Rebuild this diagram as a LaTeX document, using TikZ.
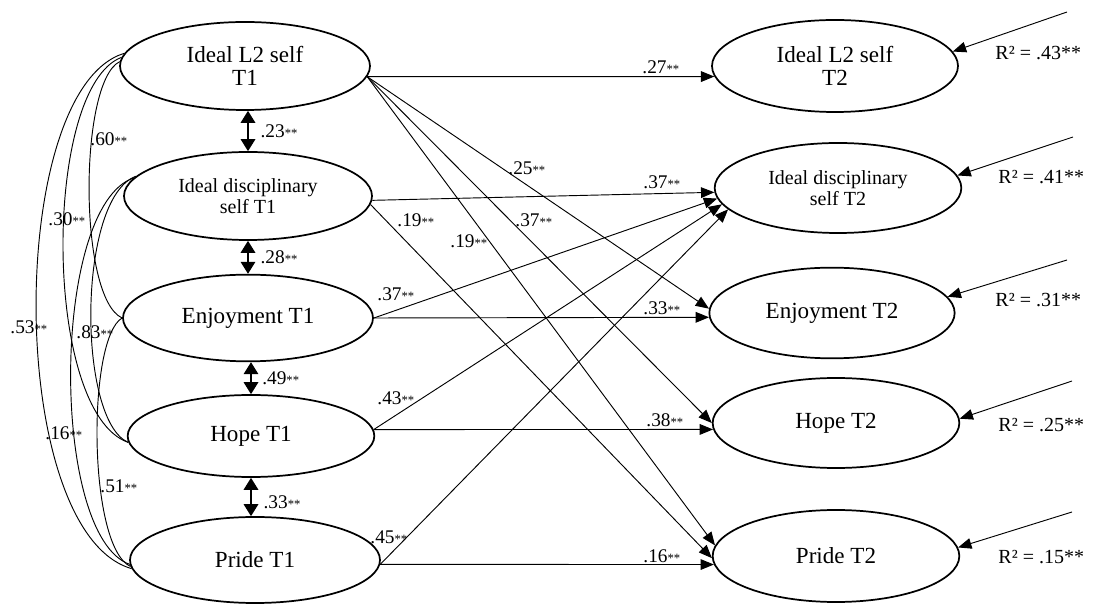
\documentclass[tikz,border=0pt]{standalone}
\usepackage{fontspec}
\setmainfont{Liberation Serif}
\usetikzlibrary{shapes.geometric,arrows.meta}

\tikzset{every picture/.style={line width=0.7pt}}
\tikzset{
  latent/.style={ellipse, draw, line width=1.3pt, inner sep=0pt, align=center,
    font=\fontsize{17.3}{17.5}\selectfont},
  small latent/.style={latent, font=\fontsize{15}{15.5}\selectfont},
  effect/.style={-{Triangle[length=10pt,width=8pt]}},
  covar/.style={{Triangle[length=9pt,width=11pt]}-{Triangle[length=9pt,width=11pt]}, line width=0.9pt},
  coef/.style={font=\fontsize{14.5}{14.5}\selectfont, inner sep=0pt, anchor=west},
  rsq/.style={font=\fontsize{15}{15}\selectfont, inner sep=0pt, anchor=west},
}
\newcommand{\coefstar}[1]{#1{\fontsize{9.5}{9.5}\selectfont **}}

\begin{document}
\begin{tikzpicture}[x=0.75pt,y=0.75pt,yscale=-1]
	\useasboundingbox (0,0) rectangle (1096,605);

	% Latent variables, time 1
	\node [latent, minimum width=187.5pt, minimum height=66pt] (l2a) at (245,66) {Ideal L2 self\\T1};
	\node [small latent, minimum width=186pt, minimum height=66pt] (disca) at (248,196) {Ideal disciplinary\\self T1};
	\node [latent, minimum width=187.5pt, minimum height=65pt] (enjoya) at (248,318) {Enjoyment T1};
	\node [latent, minimum width=185pt, minimum height=61.5pt] (hopea) at (251,436) {Hope T1};
	\node [latent, minimum width=187.5pt, minimum height=64.5pt] (pridea) at (255,560) {Pride T1};

	% Latent variables, time 2
	\node [latent, minimum width=184.5pt, minimum height=69pt] (l2b) at (835,66) {Ideal L2 self\\T2};
	\node [small latent, minimum width=185pt, minimum height=67.5pt] (discb) at (838,188) {Ideal disciplinary\\self T2};
	\node [latent, minimum width=184pt, minimum height=68pt] (enjoyb) at (832,313) {Enjoyment T2};
	\node [latent, minimum width=185pt, minimum height=67.5pt] (hopeb) at (836,423) {Hope T2};
	\node [latent, minimum width=185pt, minimum height=69pt] (prideb) at (836,556) {Pride T2};

	% Covariances between neighbours
	\draw [covar] (disca.north |- l2a.south) -- node [coef, right=9pt] {\coefstar{.23}} (disca.north);
	\draw [covar] (enjoya.north |- disca.south) -- node [coef, right=9pt] {\coefstar{.28}} (enjoya.north);
	\draw [covar] (hopea.north |- enjoya.south) -- node [coef, right=8pt] {\coefstar{.49}} (hopea.north);
	\draw [covar] (hopea.south) -- node [coef, right=9pt, yshift=-4pt] {\coefstar{.33}} (hopea.south |- pridea.north);

	% Covariances, curved
	\draw (l2a.174) .. controls +(-119,36) and +(-126,-36) .. (pridea.184);
	\draw (l2a.176) .. controls +(-79,30) and +(-86,-30) .. (hopea.183);
	\draw (l2a.178) .. controls +(-41,20) and +(-44,-20) .. (enjoya.west);
	\draw (disca.171) .. controls +(-83,28) and +(-80,-28) .. (pridea.182);
	\draw (disca.170) .. controls +(-59,22) and +(-51,-22) .. (hopea.183);
	\draw (enjoya.west) .. controls +(-35,20) and +(-43,-20) .. (pridea.183);

	\node [coef] (c60) at (90,139) {\coefstar{.60}};
	\node [coef] (c30) at (48,219) {\coefstar{.30}};
	\node [coef] (c53) at (10,327) {\coefstar{.53}};
	\node [coef] (c83) at (76,332) {\coefstar{.83}};
	\node [coef] (c16l) at (45,433) {\coefstar{.16}};
	\node [coef] (c51) at (100,486) {\coefstar{.51}};

	% Paths T1 -> T2
	\draw [effect] (l2a.-5) -- (l2b.185);
	\draw [effect] (l2a.-5) -- (enjoyb.178);
	\draw [effect] (l2a.-5) -- (hopeb.180);
	\draw [effect] (l2a.-5) -- (prideb.175);
	\draw [effect] (disca.-2) -- (discb.182);
	\draw [effect] (disca.-4) -- (prideb.181);
	\draw [effect] (enjoya.east) -- (enjoyb.182);
	\draw [effect] (enjoya.east) -- (discb.185);
	\draw [effect] (hopea.3) -- (hopeb.183);
	\draw [effect] (hopea.3) -- (discb.188);
	\draw [effect] (pridea.-2) -- (prideb.184);
	\draw [effect] (pridea.-2) -- (discb.191);

	\node [coef] (c27) at (642,67) {\coefstar{.27}};
	\node [coef] (c25) at (508,168) {\coefstar{.25}};
	\node [coef] (c37a) at (643,182) {\coefstar{.37}};
	\node [coef] (c19a) at (397,220) {\coefstar{.19}};
	\node [coef] (c19b) at (450,241) {\coefstar{.19}};
	\node [coef] (c37b) at (515,220) {\coefstar{.37}};
	\node [coef] (c37c) at (377,294) {\coefstar{.37}};
	\node [coef] (c33) at (643,308) {\coefstar{.33}};
	\node [coef] (c43) at (377,398) {\coefstar{.43}};
	\node [coef] (c38) at (646,420) {\coefstar{.38}};
	\node [coef] (c45) at (370,537) {\coefstar{.45}};
	\node [coef] (c16) at (643,556) {\coefstar{.16}};

	% Residuals
	\coordinate (e1) at (1067,12);
	\coordinate (e2) at (1073,137);
	\coordinate (e3) at (1067,260);
	\coordinate (e4) at (1072,381);
	\coordinate (e5) at (1072,512);
	\draw [effect] (e1) -- (l2b.7);
	\draw [effect] (e2) -- (discb.6);
	\draw [effect] (e3) -- (enjoyb.8);
	\draw [effect] (e4) -- (hopeb.2);
	\draw [effect] (e5) -- (prideb.4);

	\node [rsq] (r1) at (995,53) {R² = .43**};
	\node [rsq] (r2) at (998,177) {R² = .41**};
	\node [rsq] (r3) at (995,300) {R² = .31**};
	\node [rsq] (r4) at (998,425) {R² = .25**};
	\node [rsq] (r5) at (998,557) {R² = .15**};

\end{tikzpicture}
\end{document}
